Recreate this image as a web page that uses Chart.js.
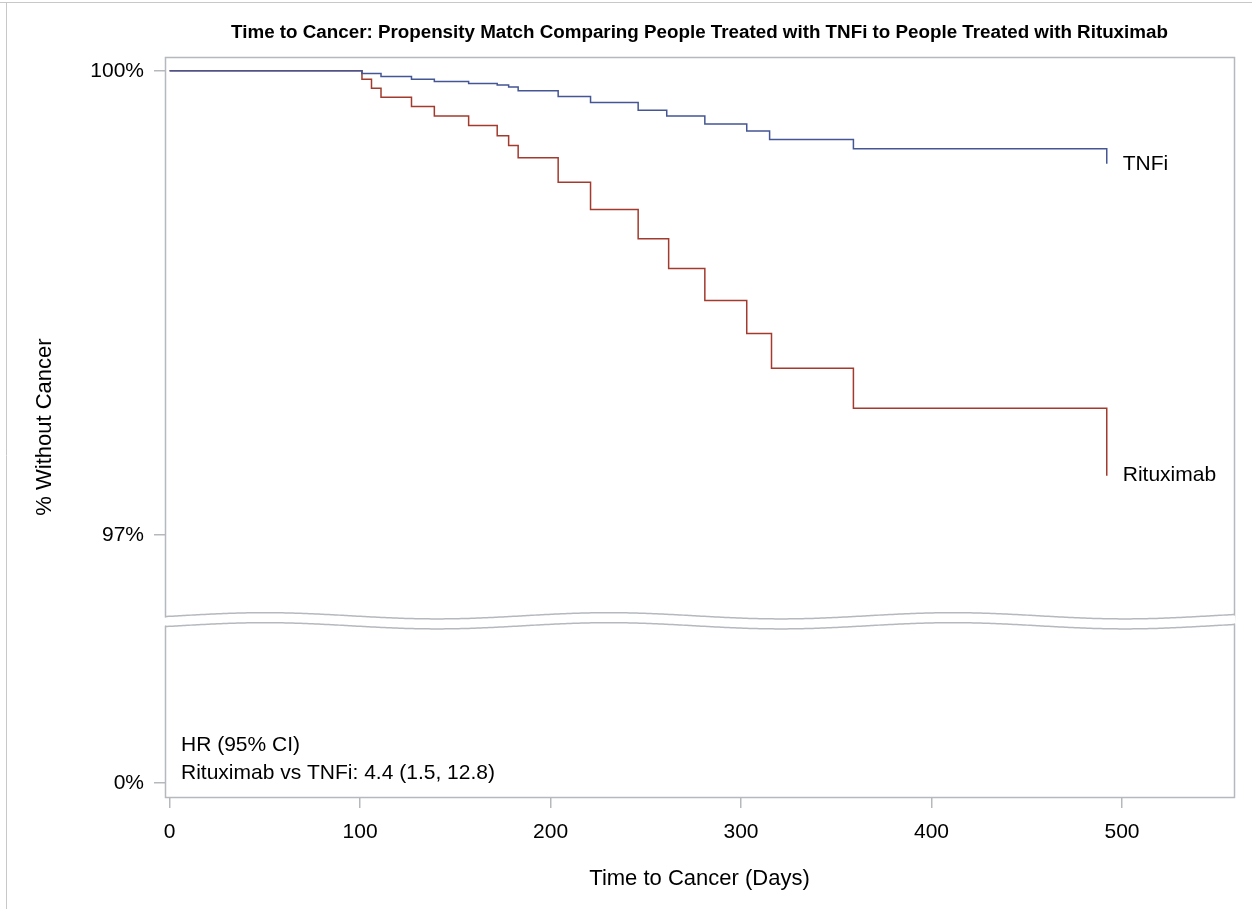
<!DOCTYPE html>
<html>
<head>
<meta charset="utf-8">
<script src="https://cdn.jsdelivr.net/npm/chart.js@4.4.0/dist/chart.umd.min.js"></script>
<style>
    html, body { margin: 0; padding: 0; background: #fff; }
    #wrap { width: 1252px; height: 909px; position: relative; }
</style>
</head>
<body>
<div id="wrap"><canvas id="km-chart" width="1252" height="909"></canvas></div>
<script>
// Kaplan-Meier steps (day, % without cancer)
const tnfiDays = [0, 101, 111, 127, 139, 157, 172, 178, 183, 204, 221, 246, 261, 281, 303, 315, 359, 492];
const tnfiSurv = [100, 99.983, 99.963, 99.946, 99.931, 99.918, 99.909, 99.895, 99.871, 99.834, 99.795, 99.746, 99.709, 99.657, 99.612, 99.556, 99.496, 99.399];
const rituxDays = [0, 101, 106, 111, 127, 139, 157, 172, 178, 183, 204, 221, 246, 262, 281, 303, 316, 359, 492];
const rituxSurv = [100, 99.946, 99.888, 99.830, 99.769, 99.709, 99.646, 99.580, 99.517, 99.439, 99.280, 99.103, 98.914, 98.722, 98.515, 98.302, 98.078, 97.819, 97.383];

const seriesNames = ['TNFi', 'Rituximab'];
const xTicks = [0, 100, 200, 300, 400, 500];
const upperTicks = [97, 100];
const lowerTicks = [0];
const hrLines = ['HR (95% CI)', 'Rituximab vs TNFi: 4.4 (1.5, 12.8)'];

const FONT = "'Liberation Sans', Arial, sans-serif";
const FRAME = '#b5b9bd';
const COLORS = ['#445694', '#A23A2E'];

function toPoints(days, vals) {
    return days.map((d, i) => ({ x: d, y: vals[i] }));
}

function wave(x, center) {
    return center - 3.1 * Math.cos(2 * Math.PI * (x - 265) / 344);
}

const decorPlugin = {
    id: 'decor',
    beforeDraw(chart) {
        const ctx = chart.ctx;
        ctx.save();
        ctx.fillStyle = '#fff';
        ctx.fillRect(0, 0, chart.width, chart.height);
        ctx.strokeStyle = '#c8c8c8';
        ctx.lineWidth = 1;
        ctx.beginPath();
        ctx.moveTo(0, 2.5); ctx.lineTo(chart.width, 2.5);
        ctx.moveTo(6.5, 2); ctx.lineTo(6.5, chart.height);
        ctx.stroke();
        ctx.restore();
    },
    afterDraw(chart) {
        const ctx = chart.ctx;
        const a = chart.chartArea;
        const xs = chart.scales.x;
        const yt = chart.scales.yTop;
        ctx.save();

        // plot frame
        ctx.strokeStyle = FRAME;
        ctx.lineWidth = 1.5;
        ctx.strokeRect(Math.round(a.left) + 0.5, Math.round(a.top) + 0.5, Math.round(a.right - a.left), Math.round(a.bottom - a.top));

        // axis break
        const upC = 615.8, loC = 625.8;
        ctx.fillStyle = '#fff';
        ctx.beginPath();
        for (let x = a.left - 2; x <= a.right + 2; x += 2) {
            const y = wave(x, upC) + 1;
            if (x === a.left - 2) ctx.moveTo(x, y); else ctx.lineTo(x, y);
        }
        for (let x = a.right + 2; x >= a.left - 2; x -= 2) ctx.lineTo(x, wave(x, loC) - 1);
        ctx.closePath();
        ctx.fill();
        [upC, loC].forEach(c => {
            ctx.beginPath();
            for (let x = a.left; x <= a.right + 1; x += 2) {
                const y = wave(x, c);
                if (x === a.left) ctx.moveTo(x, y); else ctx.lineTo(x, y);
            }
            ctx.stroke();
        });

        // y axis title, centred over both panels
        ctx.fillStyle = '#000';
        ctx.font = '22px ' + FONT;
        ctx.textAlign = 'center';
        ctx.textBaseline = 'middle';
        ctx.save();
        ctx.translate(45, 427);
        ctx.rotate(-Math.PI / 2);
        ctx.fillText('% Without Cancer', 0, 0);
        ctx.restore();

        // curve labels at the end of each line
        ctx.textAlign = 'left';
        ctx.font = '21px ' + FONT;
        const ends = [[tnfiDays, tnfiSurv], [rituxDays, rituxSurv]];
        ends.forEach(([d, v], i) => {
            const lx = xs.getPixelForValue(d[d.length - 1]) + 16;
            const ly = yt.getPixelForValue(v[v.length - 1]);
            ctx.fillText(seriesNames[i], lx, ly);
        });

        // hazard ratio box
        ctx.font = '21px ' + FONT;
        hrLines.forEach((t, i) => ctx.fillText(t, 181, 745 + i * 28));
        ctx.restore();
    }
};

const tickFont = { family: FONT, size: 21 };
const gridOpts = { drawOnChartArea: false, drawTicks: true, tickLength: 11, color: FRAME, lineWidth: 1.5 };

new Chart(document.getElementById('km-chart'), {
    type: 'line',
    data: {
        datasets: [
            {
                label: seriesNames[0],
                data: toPoints(tnfiDays, tnfiSurv),
                yAxisID: 'yTop',
                borderColor: COLORS[0],
                borderWidth: 1.5,
                stepped: true,
                pointRadius: 0,
                fill: false
            },
            {
                label: seriesNames[1],
                data: toPoints(rituxDays, rituxSurv),
                yAxisID: 'yTop',
                borderColor: COLORS[1],
                borderWidth: 1.5,
                stepped: true,
                pointRadius: 0,
                fill: false
            }
        ]
    },
    options: {
        responsive: false,
        animation: false,
        devicePixelRatio: 1,
        layout: { padding: { left: 0, right: 18, top: 0, bottom: 0 } },
        plugins: {
            legend: { display: false },
            tooltip: { enabled: false },
            title: {
                display: true,
                fullSize: false,
                text: 'Time to Cancer: Propensity Match Comparing People Treated with TNFi to People Treated with Rituximab',
                color: '#000',
                font: { family: FONT, size: 18.8, weight: 'bold', lineHeight: 1.2 },
                padding: { top: 22, bottom: 12.5 }
            }
        },
        scales: {
            x: {
                type: 'linear',
                min: -2.4,
                max: 558.8,
                afterBuildTicks: (s) => { s.ticks = xTicks.map(v => ({ value: v })); },
                afterFit: (s) => { s.height = 112; },
                ticks: { color: '#000', font: tickFont, padding: 12, maxRotation: 0 },
                grid: gridOpts,
                border: { display: false },
                title: {
                    display: true,
                    text: 'Time to Cancer (Days)',
                    color: '#000',
                    font: { family: FONT, size: 22 },
                    padding: { top: 0, bottom: 17 }
                }
            },
            yBot: {
                type: 'linear',
                position: 'left',
                stack: 'km',
                stackWeight: 177,
                min: -0.0791,
                max: 0.9209,
                afterBuildTicks: (s) => { s.ticks = lowerTicks.map(v => ({ value: v })); },
                afterFit: (s) => { s.width = 165; },
                ticks: { color: '#000', font: tickFont, padding: 10, callback: (v) => v + '%' },
                grid: gridOpts,
                border: { display: false }
            },
            yTop: {
                type: 'linear',
                position: 'left',
                stack: 'km',
                stackWeight: 562.8,
                min: 96.4504,
                max: 100.0892,
                afterBuildTicks: (s) => { s.ticks = upperTicks.map(v => ({ value: v })); },
                afterFit: (s) => { s.width = 165; },
                ticks: { color: '#000', font: tickFont, padding: 10, callback: (v) => v + '%' },
                grid: gridOpts,
                border: { display: false }
            }
        }
    },
    plugins: [decorPlugin]
});
</script>
</body>
</html>
